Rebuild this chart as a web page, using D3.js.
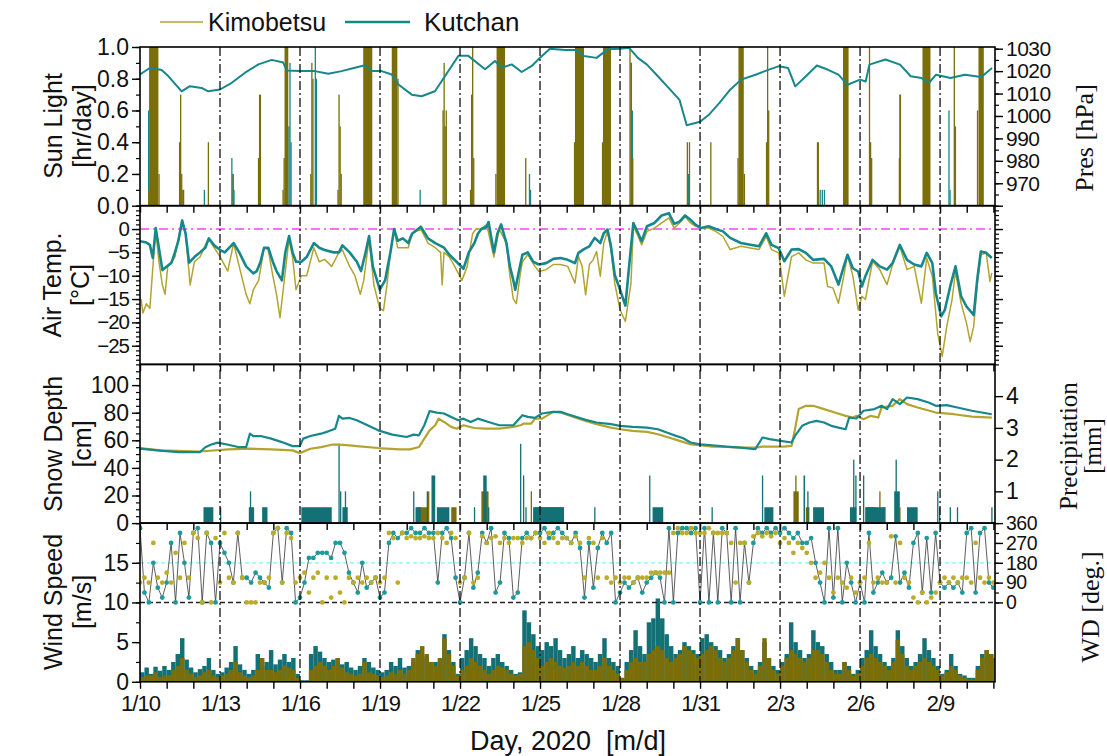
<!DOCTYPE html>
<html>
<head>
<meta charset="utf-8">
<title>Kimobetsu / Kutchan</title>
<script src="https://cdn.jsdelivr.net/npm/d3@7"></script>
<style>
  body { margin: 0; background: #fff; }
  text { fill: #111; }
</style>
</head>
<body>
<svg id="chart" width="1107" height="756"></svg>
<script>
// ---- data (t = days since 2020-01-10 00:00) ----
var xTickDays = [0, 3, 6, 9, 12, 15, 18, 21, 24, 27, 30];
var xTickLabels = ["1/10", "1/13", "1/16", "1/19", "1/22", "1/25", "1/28", "1/31", "2/3", "2/6", "2/9"];

// sunshine, runs of hourly bars: [t start, t end, hr]
var sunKimo = [[0.30,0.34,0.1],[0.34,0.69,1.0],[0.69,0.73,0.2],[1.46,1.5,0.4],[1.5,1.54,0.7],[1.54,1.58,0.2],[1.58,1.66,0.1],
  [2.54,2.58,0.4],[3.47,3.51,0.2],[4.42,4.46,0.3],[4.46,4.54,0.7],[5.34,5.38,0.1],[5.38,5.42,0.3],[5.42,5.56,1.0],
  [6.38,6.42,0.2],[6.42,6.46,0.9],[6.46,6.5,0.8],[7.40,7.44,0.1],[7.44,7.48,0.7],[7.48,7.52,0.5],[7.52,7.56,0.2],
  [8.37,8.71,1.0],[9.44,9.65,1.0],[9.65,9.69,0.8],[11.34,11.38,0.6],[11.38,11.42,0.9],[11.42,11.46,0.5],[11.46,11.5,0.6],
  [12.37,12.41,0.1],[12.41,12.45,0.7],[12.45,12.49,1.0],[12.49,12.53,0.3],[13.32,13.36,0.2],[13.37,13.69,1.0],
  [14.44,14.48,0.3],[16.27,16.31,0.4],[16.31,16.65,1.0],[17.32,17.36,0.4],[17.36,17.66,1.0],
  [18.35,18.39,1.0],[18.39,18.45,0.9],[18.45,18.5,0.3],[20.5,20.54,0.4],[20.58,20.62,0.4],[21.38,21.42,0.4],
  [22.4,22.44,0.3],[22.44,22.64,1.0],[22.64,22.68,0.2],[23.47,23.51,0.4],[23.51,23.55,1.0],[23.55,23.59,0.6],
  [25.38,25.46,0.4],[26.36,26.57,1.0],[27.33,27.37,1.0],[27.37,27.41,0.4],[27.41,27.45,0.3],
  [28.45,28.49,0.3],[28.49,28.53,0.7],[29.34,29.64,1.0],[30.51,30.55,1.0],[30.55,30.6,0.5],
  [31.38,31.42,0.6],[31.44,31.64,1.0]];
var sunKut = [[0.3,0.34,0.6],[2.39,2.43,0.1],[3.42,3.46,0.3],[3.46,3.5,0.2],[3.5,3.54,0.1],
  [5.56,5.6,0.5],[5.6,5.64,0.9],[5.64,5.68,0.4],[6.55,6.59,1.0],[6.59,6.63,0.8],[10.48,10.52,0.1],
  [13.58,13.62,0.9],[14.58,14.62,0.2],[14.62,14.66,0.1],[18.4,18.44,0.9],[18.44,18.48,0.6],[20.54,20.58,0.2],
  [25.48,25.52,0.1],[25.56,25.6,0.1],[25.64,25.68,0.1],[26.42,26.46,0.6],[28.47,28.51,0.7],[29.42,29.46,0.6],[29.46,29.5,0.5],
  [30.31,30.35,0.6],[30.35,30.39,0.1]];

// station pressure at Kutchan [t, hPa]
var presKut = [[0,1018.5],[0.38,1021.5],[0.81,1020.5],[1.06,1017.8],[1.56,1011],[1.87,1013.3],[2.31,1012.5],[2.56,1011],
  [3.0,1011.8],[3.44,1014.8],[3.94,1019.3],[4.44,1023],[4.94,1025],[5.37,1023.8],[5.5,1020.3],[6.0,1020],[6.56,1020],
  [7.06,1018.8],[7.56,1020],[8.06,1021.5],[8.44,1022.6],[8.69,1020],[9.06,1020],[9.44,1018.5],[9.69,1014],[10.19,1009.5],
  [10.56,1008.8],[11.06,1011],[11.44,1017.8],[11.94,1026.8],[12.31,1026.8],[12.94,1020.8],[13.31,1024.5],[13.56,1021.5],
  [13.94,1023],[14.31,1019.6],[14.69,1022.3],[15.0,1026],[15.37,1030],[15.94,1029.4],[16.37,1029.4],[16.64,1026.7],
  [17.12,1025.9],[17.53,1029.7],[18.0,1030],[18.34,1030.4],[18.67,1025.9],[19.01,1022.9],[19.42,1017.7],[19.83,1012.4],
  [20.23,1007.2],[20.5,995.9],[21.0,997.4],[21.32,1000.4],[21.72,1005.7],[22.13,1011.7],[22.54,1016.2],[23.08,1018.4],
  [23.48,1020.2],[23.96,1022.2],[24.3,1021.4],[24.57,1013.2],[24.97,1017.7],[25.38,1022.5],[25.78,1020.7],[26.19,1018.4],
  [26.53,1013.9],[27.0,1016.2],[27.21,1015.4],[27.35,1022.9],[27.95,1025.2],[28.5,1022.9],[28.9,1017.7],[29.31,1016.9],
  [29.58,1014.7],[29.85,1018.4],[30.39,1016.9],[30.93,1018.4],[31.54,1017.4],[31.95,1021.4]];

// air temperature [t, degC]
var tempKut = [[0,-2.6],[0.24,-2.9],[0.37,-3.4],[0.48,-6.2],[0.59,0.2],[0.84,-8.8],[1.18,-7.2],[1.31,-5],[1.44,-2.5],[1.58,1.8],
  [1.71,-1],[1.84,-7.2],[2.04,-6],[2.25,-5],[2.45,-4],[2.58,-2],[2.78,-3.5],[3.01,-4.5],[3.18,-5],[3.51,-3],[3.72,-5],[3.98,-8],
  [4.25,-9.5],[4.38,-9],[4.52,-7],[4.65,-4],[4.81,-4],[4.98,-7],[5.12,-9],[5.32,-11],[5.45,-5],[5.59,-1.5],[5.72,-5],[5.85,-7],
  [6.05,-7],[6.25,-6],[6.52,-3],[6.72,-4],[6.92,-4.5],[7.26,-5],[7.46,-5],[7.59,-3.5],[7.86,-5],[8.13,-7],[8.29,-9],[8.46,-5],
  [8.59,-1.5],[8.73,-8],[8.99,-13],[9.19,-11],[9.39,-5],[9.53,0],[9.66,-2.5],[9.86,-2],[10.06,-3],[10.2,-1],[10.53,0.5],
  [10.8,-2],[11.07,-3],[11.4,-4],[11.6,-5.5],[11.87,-7],[12.13,-8.5],[12.33,-5],[12.54,-3],[12.67,-1],[12.8,0],[13.0,0.5],
  [13.07,1.5],[13.27,-5],[13.4,-1],[13.54,1],[13.74,-3],[13.87,-8],[14.0,-11],[14.07,-13],[14.21,-9],[14.34,-5.5],[14.54,-5],
  [14.74,-7],[14.96,-7.6],[15.23,-7.3],[15.5,-6.4],[15.77,-6.2],[16.04,-6.6],[16.31,-7.3],[16.44,-5.1],[16.65,-4.3],
  [16.85,-3.7],[17.05,-1.9],[17.26,-3],[17.39,-0.9],[17.53,-0.1],[17.66,-3.7],[17.8,-9.8],[18.0,-13],[18.2,-16.4],[18.34,-8],
  [18.5,1.3],[18.68,-0.9],[18.81,-2.6],[19.01,0.6],[19.29,1.3],[19.56,2.9],[19.83,3.4],[20.03,1.1],[20.23,1.6],[20.44,2.9],
  [20.64,2],[20.84,0.9],[21.04,0.2],[21.32,0.6],[21.59,0],[21.86,-0.5],[22.13,-1.9],[22.53,-3],[22.94,-3.4],[23.21,-3.7],
  [23.48,-0.9],[23.68,-3.4],[23.95,-4.1],[24.16,-6.9],[24.43,-4.4],[24.7,-4.3],[24.97,-5.1],[25.24,-6.6],[25.65,-6.4],
  [25.92,-8],[26.19,-11.9],[26.39,-8],[26.53,-5.5],[26.73,-8.4],[26.93,-9.1],[27.07,-12.3],[27.2,-10.1],[27.47,-6.6],
  [27.74,-8],[28.01,-8.7],[28.22,-7.3],[28.49,-3.4],[28.76,-6.6],[29.03,-7.6],[29.3,-8],[29.5,-5.1],[29.71,-7.3],
  [29.84,-13.7],[30.04,-18.7],[30.18,-17.3],[30.38,-12.3],[30.58,-8],[30.79,-14.4],[30.99,-16.6],[31.26,-18.4],
  [31.4,-10.5],[31.53,-4.8],[31.73,-5.1],[31.94,-6.2]];
var tempKimo = [[0.04,-15],[0.11,-18],[0.24,-16],[0.37,-17],[0.51,-6],[0.59,0],[0.71,-7],[0.84,-12],[0.94,-14],[1.04,-8],
  [1.18,-7],[1.31,-6],[1.44,-2],[1.58,2],[1.71,-1],[1.88,-12],[2.04,-7],[2.25,-6],[2.45,-3.5],[2.58,-2],[2.78,-4],[3.01,-6],
  [3.29,-9],[3.51,-3],[3.72,-8],[3.98,-14],[4.12,-16],[4.25,-13],[4.45,-11],[4.65,-4],[4.81,-4.5],[4.98,-10],[5.12,-14],
  [5.25,-19],[5.43,-10],[5.59,-2],[5.72,-6],[5.85,-13],[6.05,-10],[6.25,-10],[6.52,-4],[6.72,-7],[6.92,-6.5],[7.19,-8],
  [7.46,-5],[7.59,-4.5],[7.86,-8],[8.06,-10],[8.26,-14],[8.39,-11],[8.59,-2],[8.77,-12],[8.99,-17],[9.13,-17.5],[9.26,-12],
  [9.39,-5],[9.53,0],[9.66,-4],[9.86,-4],[10.06,-4],[10.2,-1],[10.53,0],[10.8,-3],[11.07,-4],[11.27,-5],[11.33,-12],
  [11.4,-5],[11.6,-6],[11.8,-8],[12.07,-11],[12.27,-8],[12.47,-1],[12.6,0],[12.8,0],[13.0,1],[13.27,-6],[13.47,0],
  [13.74,-3],[13.87,-10],[14.0,-15],[14.11,-16],[14.25,-10],[14.34,-7],[14.54,-5.5],[14.81,-8],[14.96,-9.1],[15.23,-8.7],
  [15.5,-7.6],[15.77,-7.6],[16.04,-8],[16.31,-11.6],[16.44,-5.9],[16.58,-8],[16.71,-14.1],[16.85,-7.6],[16.99,-6.6],
  [17.12,-4.8],[17.26,-10.1],[17.39,-3],[17.53,-0.5],[17.66,-4.4],[17.8,-11.6],[18.0,-17.3],[18.2,-19.8],[18.41,-11.6],
  [18.5,0.6],[18.68,-1.6],[18.81,-3.4],[19.01,-0.5],[19.29,0.2],[19.56,1.3],[19.83,2.4],[20.03,0.2],[20.23,1.3],[20.44,2.7],
  [20.64,1.3],[20.84,0.6],[21.04,0.2],[21.32,0.2],[21.59,-0.5],[21.86,-1.6],[22.13,-4.4],[22.53,-3.7],[22.94,-4.1],
  [23.21,-4.4],[23.48,-1.6],[23.68,-4.4],[23.95,-5.1],[24.16,-14.4],[24.43,-5.9],[24.7,-5.1],[24.97,-6.6],[25.24,-7.3],
  [25.65,-7.3],[25.78,-12.3],[25.98,-12.6],[26.19,-15.9],[26.39,-10.1],[26.53,-5.5],[26.73,-10.1],[26.93,-17.3],
  [27.07,-14.4],[27.2,-15.1],[27.47,-6.9],[27.74,-8.7],[28.01,-11.9],[28.22,-7.6],[28.49,-3.7],[28.76,-8.7],[29.03,-8],
  [29.3,-15.9],[29.5,-6.2],[29.71,-10.1],[29.91,-22.3],[30.08,-27.3],[30.25,-20.9],[30.45,-15.1],[30.58,-9.1],
  [30.79,-15.9],[30.99,-20.1],[31.13,-24.1],[31.26,-20.9],[31.4,-11.6],[31.53,-5.5],[31.73,-5.1],[31.87,-11.2],[31.94,-9.4]];

// snow depth [t, cm]
var snowKut = [[0,53.9],[0.64,52.7],[1.44,51.5],[2.25,51.5],[2.45,55],[2.65,56.8],[2.91,58.3],[3.31,56.8],[3.72,55],[3.98,55],
  [4.12,64.8],[4.25,63],[4.52,63.1],[4.92,61.2],[5.32,58.7],[5.72,55.8],[5.99,55.8],[6.12,61.2],[6.39,63.1],[6.79,64.8],
  [7.06,66.5],[7.32,68.4],[7.46,77.7],[7.59,75.7],[7.86,76.2],[8.13,74.5],[8.53,70.9],[8.93,67.2],[9.46,64.1],[10.0,62.4],
  [10.26,64.1],[10.46,63.6],[10.66,70.9],[10.86,81.1],[11.13,80.1],[11.4,79.4],[11.67,76.9],[11.93,74.5],[12.13,75.7],
  [12.4,73.3],[12.67,75.7],[13.07,73.3],[13.47,70.9],[14.0,70.9],[14.34,78.2],[14.54,77],[14.81,76.2],[15.07,79.4],
  [15.5,80.6],[15.77,80.6],[16.04,78.9],[16.31,77.2],[16.71,74.8],[17.12,72.9],[17.66,71.7],[18.0,70.5],[18.47,69.7],
  [19.01,69.2],[19.42,68],[19.83,65.1],[20.1,63.2],[20.37,61.5],[20.64,58.4],[21.0,57.1],[21.45,56.4],[21.99,55.4],
  [22.53,54.7],[23.07,53.5],[23.34,62],[23.61,60.8],[24.02,59.6],[24.43,58.4],[24.56,63.2],[24.83,70.5],[25.1,72.9],
  [25.37,74.1],[25.65,72.9],[25.92,70.5],[26.19,69.2],[26.46,68],[26.59,76.5],[26.86,75.8],[27.13,81.4],[27.54,82.6],
  [27.81,85],[28.01,82.6],[28.22,89.8],[28.49,86.2],[28.76,91],[29.16,89.8],[29.57,87.4],[29.84,85],[30.25,85.5],
  [30.65,83.8],[31.19,81.4],[31.94,78.9]];
var snowKimo = [[0,54.4],[0.77,52.7],[2.25,51.9],[3.31,53.4],[4.12,53.9],[4.92,53.4],[5.72,52.7],[5.99,50.7],[6.39,53.9],
  [6.79,55.1],[7.19,56.8],[7.46,56.8],[7.86,56.3],[8.13,55.8],[8.93,54.4],[9.73,53.4],[10.13,53.4],[10.46,55.1],[10.66,61.2],
  [10.86,67.2],[11.07,70.9],[11.2,75.7],[11.4,73.3],[11.67,69.7],[11.87,68.4],[12.13,70.9],[12.53,68.9],[12.93,68.4],
  [13.47,68.4],[14.0,69.7],[14.27,70.9],[14.4,72.1],[14.67,72.1],[14.81,75.7],[15.07,75.7],[15.5,80.6],[15.77,80.1],
  [16.31,76.5],[16.71,74.1],[17.12,71.7],[17.66,69.2],[18.0,68],[18.47,66.8],[19.01,66.1],[19.42,64.4],[19.83,62],
  [20.23,59.6],[20.64,57.1],[21.0,56.4],[21.45,55.4],[21.99,55.2],[22.53,54.7],[23.07,54.7],[23.34,55.4],[23.75,55.4],
  [24.16,55.4],[24.43,55.9],[24.56,68],[24.7,82.6],[24.97,85],[25.24,85],[25.65,82.6],[26.05,80.1],[26.46,77.7],
  [26.73,76.5],[26.86,77.7],[27.13,75.3],[27.4,77.7],[27.68,76.5],[27.81,83.8],[28.22,85],[28.49,89.8],[28.76,86.2],
  [29.16,83.8],[29.84,80.1],[30.52,78.9],[31.19,77.2],[31.94,76.5]];

// precipitation, runs of hourly bars: [t start, t end, mm]
var precKut = [[2.38,2.75,0.5],[3.0,3.04,0.5],[4.08,4.28,0.5],[4.12,4.16,1.0],[4.58,4.78,0.5],[6.05,7.19,0.5],
  [7.44,7.48,2.5],[7.5,7.54,1.0],[7.59,7.79,0.5],[7.68,7.72,1.0],[10.24,10.28,1.0],[10.33,10.53,0.5],[10.75,10.79,1.0],
  [10.93,11.07,1.5],[11.13,11.6,0.5],[12.52,12.56,0.5],[12.87,13.0,1.5],[13.05,13.09,0.5],[14.25,14.29,2.5],
  [14.36,14.4,1.5],[14.45,14.49,0.5],[14.74,15.9,0.5],[17.03,17.07,0.5],[19.09,19.13,1.5],[19.22,19.62,0.5],
  [21.43,21.47,0.5],[23.32,23.36,1.5],[23.41,23.75,0.5],[24.88,24.94,1.5],[25.02,25.06,1.0],[25.24,25.65,0.5],
  [26.62,26.86,0.5],[26.74,26.78,2.0],[26.82,26.86,1.5],[27.11,27.15,1.5],[27.2,27.95,0.5],[28.28,28.49,1.0],
  [28.33,28.37,2.0],[28.76,29.16,0.5],[29.89,29.93,1.0],[29.96,30.0,0.5],[30.36,30.4,0.5],[30.63,30.67,0.5],
  [31.92,31.96,0.5]];
var precKimo = [[10.4,10.8,0.5],[10.8,10.84,1.0],[11.67,11.87,0.5],[12.8,13.07,1.0],[14.65,14.69,1.0],[14.81,15.9,0.5],
  [24.5,24.7,1.0],[24.57,24.61,1.5],[24.97,25.1,0.5],[27.2,27.61,0.5],[27.72,27.76,1.0],[27.88,27.95,0.5],[28.47,28.51,0.5]];

// wind speed, every 4 h from t = 0 [m/s]
var windKut = [1.2,1.8,1.0,1.9,1.4,2.0, 1.5,2.5,3.5,5.5,2.8,1.8, 1.2,1.6,2.0,3.0,1.5,1.0, 1.2,1.8,2.5,4.5,2.2,1.5,
  1.0,1.5,3.5,2.0,2.5,4.0, 2.2,2.8,3.5,2.5,3.0,1.0, 0.2,0.2,3.5,4.5,3.8,3.0, 2.5,2.8,3.0,2.2,2.5,1.8,
  1.5,2.0,3.0,2.5,1.8,1.5, 1.2,1.5,2.5,2.0,3.0,1.8, 2.0,2.5,4.0,3.0,3.2,2.5, 2.5,3.0,6.0,4.0,2.5,1.0,
  3.0,4.0,5.5,4.5,3.5,3.0, 2.0,3.0,3.5,2.5,2.0,1.5, 1.0,1.2,9.0,7.5,6.0,4.5, 4.0,5.0,4.5,5.5,4.0,3.0,
  3.5,4.5,3.0,4.0,3.5,3.0, 2.5,3.5,5.5,3.0,2.5,2.0, 0.5,2.5,4.0,6.5,4.5,3.5, 7.5,8.0,10.5,8.0,6.0,4.5,
  3.5,4.0,5.0,4.5,4.0,3.5, 5.5,6.0,5.0,4.5,4.0,3.0, 3.5,4.5,5.5,4.0,3.0,2.0, 1.5,2.5,5.0,3.0,2.0,1.5,
  2.5,3.5,7.5,5.0,4.0,3.0, 3.5,6.5,5.0,4.5,3.5,2.5, 1.5,1.5,2.5,2.0,1.0,1.5, 3.0,4.0,6.5,4.5,3.5,2.5,
  2.0,3.0,6.5,4.5,3.0,2.0, 2.5,3.5,5.5,4.0,3.0,2.0, 1.0,1.5,3.5,2.0,1.0,0.8, 0.5,0.5,2.0,3.5,4.0,3.5, 3.0];
var windKimo = [0.6,0.8,0.8,1.2,0.6,0.8, 0.8,1.5,2.0,3.0,1.5,1.0, 0.6,0.8,1.2,1.5,0.8,0.6, 0.8,1.0,1.5,2.5,1.2,0.8,
  0.6,0.8,1.5,3.0,1.5,1.5, 1.2,1.5,2.0,1.8,1.5,0.5, 0.1,0.1,1.5,2.0,2.5,2.0, 1.5,2.0,3.0,1.8,1.2,1.0,
  0.8,1.0,2.5,1.2,1.0,0.8, 0.6,0.8,1.2,1.0,1.5,1.0, 1.5,3.0,3.5,4.5,3.5,2.5, 2.0,3.0,5.5,3.5,2.0,0.8,
  1.5,2.0,3.0,2.5,2.0,1.5, 1.0,1.5,2.0,1.8,1.5,1.0, 0.8,1.0,4.5,5.0,4.0,3.0, 2.0,2.5,3.0,2.5,2.0,1.8,
  2.0,2.5,2.0,2.5,2.0,1.5, 1.5,2.0,3.0,2.0,1.5,1.0, 0.5,1.5,2.5,3.0,2.5,2.5, 3.5,4.0,4.5,4.0,3.0,2.5,
  3.0,3.5,4.5,4.0,3.5,3.0, 3.5,4.0,4.5,4.0,3.0,2.5, 3.0,4.0,5.5,4.0,2.5,1.5, 1.0,2.0,5.5,3.0,1.5,1.0,
  2.0,3.0,4.0,3.5,3.0,2.5, 3.0,4.0,4.0,3.5,2.5,1.5, 1.0,1.0,2.5,1.5,0.8,1.0, 2.0,3.0,3.5,3.0,2.5,2.0,
  1.5,2.5,5.3,3.5,2.0,1.5, 2.0,2.5,3.0,2.5,2.0,1.5, 0.8,1.2,2.0,1.5,0.8,0.5, 0.3,0.3,1.5,3.0,4.0,3.5, 3.0];

// wind direction, every 4 h from t = 0 [deg]
var wdKut = [337,45,0,180,67,22, 90,270,0,315,180,22, 315,337,0,315,270,0, 270,225,180,90,315,112,
  112,90,135,112,90,67, 315,337,90,337,315,0, 22,90,202,202,225,225, 225,202,270,270,225,135,
  90,45,180,67,90,112, 22,45,270,315,292,315, 315,337,315,315,337,315, 315,90,315,337,292,112,
  0,112,315,67,135,315, 270,337,45,90,315,292, 22,45,292,315,292,315, 315,337,292,315,337,315,
  292,270,315,247,22,270, 67,247,315,270,315,0, 45,90,67,90,112,45, 90,112,135,112,0,337,
  0,315,337,337,315,337, 0,337,0,315,0,337, 315,0,337,0,270,90, 270,337,315,337,315,337,
  315,337,315,292,315,270, 270,292,180,90,0,337, 22,337,0,180,90,0, 90,0,315,45,90,135,
  90,112,300,90,135,67, 270,315,45,292,45,315, 90,67,90,67,90,45, 315,337,45,315,337,90, 67];
var wdKimo = [90,112,90,270,112,90, 135,90,225,112,270,112, 315,292,0,315,0,292, 90,315,112,90,315,112,
  0,0,0,90,90,112, 315,337,90,315,292,90, 112,135,45,112,135,0, 112,22,112,45,0,112,
  90,112,90,112,90,112, 90,112,315,292,90,315, 292,300,292,292,300,292, 292,315,292,270,315,292,
  90,112,315,90,112,300, 270,292,300,270,292,270, 292,292,270,292,292,315, 292,270,315,292,270,292,
  292,270,300,270,112,292, 270,112,292,112,90,112, 90,112,112,90,112,112, 112,135,135,135,135,135,
  315,337,315,315,337,315, 315,315,337,315,315,315, 315,270,90,270,270,90, 300,315,300,315,300,315,
  270,292,270,225,270,247, 225,180,112,135,180,112, 45,112,90,67,112,45, 90,112,270,90,112,90,
  90,300,90,270,112,90, 22,0,45,0,22,45, 90,112,90,112,90,112, 112,90,270,112,90,112, 90];

var sunTicks = [0, 0.2, 0.4, 0.6, 0.8, 1.0];
var presTicks = [970, 980, 990, 1000, 1010, 1020, 1030];
var tempTicks = [0, -5, -10, -15, -20, -25];
var snowTicks = [0, 20, 40, 60, 80, 100];
var precTicks = [1, 2, 3, 4];
var wsTicks = [0, 5, 10, 15];
var wdTicks = [0, 90, 180, 270, 360];

// ---- layout ----
var left = 140, right = 995, top0 = 47, ph = 158.7;
var pTop = function (i) { return top0 + i * ph; };
var kimoLine = "#b3a430", kimoBar = "#7a6e0a", kutLine = "#16878b", kutBar = "#137075";
var sans = "'Liberation Sans', Arial, sans-serif";
var serif = "'Liberation Serif', 'Times New Roman', serif";

var svg = d3.select("#chart");
var x = d3.scaleLinear().domain([0, 32.06]).range([left, right]);

var ySun = d3.scaleLinear().domain([0, 1]).range([pTop(1), pTop(0)]);
var yPres = d3.scaleLinear().domain([960, 1030.75]).range([pTop(1), pTop(0)]);
var yTemp = d3.scaleLinear().domain([-29, 5]).range([pTop(2), pTop(1)]);
var ySnow = d3.scaleLinear().domain([0, 115]).range([pTop(3), pTop(2)]);
var yPrec = d3.scaleLinear().domain([0, 5]).range([pTop(3), pTop(2)]);
var yWs = d3.scaleLinear().domain([0, 20]).range([pTop(4), pTop(3)]);
var yWd = d3.scaleLinear().domain([0, 360]).range([yWs(10), pTop(3)]);

var defs = svg.append("defs");
for (var i = 0; i < 4; i++) {
  defs.append("clipPath").attr("id", "clip" + i)
    .append("rect").attr("x", left).attr("y", pTop(i)).attr("width", right - left).attr("height", ph);
}

function runBars(g, data, y, color) {
  g.selectAll(null).data(data).join("rect")
    .attr("x", function (d) { return x(d[0]); })
    .attr("width", function (d) { return Math.max(x(d[1]) - x(d[0]), 1.3); })
    .attr("y", function (d) { return y(d[2]); })
    .attr("height", function (d) { return y(0) - y(d[2]); })
    .attr("fill", color);
}
function drawLine(g, data, y, color, w) {
  g.append("path").datum(data)
    .attr("fill", "none").attr("stroke", color).attr("stroke-width", w).attr("stroke-linejoin", "round")
    .attr("d", d3.line().x(function (d) { return x(d[0]); }).y(function (d) { return y(d[1]); }));
}

// panel 1: sunshine + pressure
var g1 = svg.append("g").attr("clip-path", "url(#clip0)");
runBars(g1, sunKut, ySun, kutLine);
runBars(g1, sunKimo, ySun, kimoBar);
drawLine(g1, presKut, yPres, kutLine, 2);

// panel 2: air temperature
var g2 = svg.append("g").attr("clip-path", "url(#clip1)");
g2.append("line").attr("x1", left).attr("x2", right).attr("y1", yTemp(0)).attr("y2", yTemp(0))
  .attr("stroke", "#ff40ff").attr("stroke-width", 1.6).attr("stroke-dasharray", "9,4,2,4");
drawLine(g2, tempKimo, yTemp, kimoLine, 1.5);
drawLine(g2, tempKut, yTemp, kutLine, 2.6);

// panel 3: snow depth + precipitation
var g3 = svg.append("g").attr("clip-path", "url(#clip2)");
runBars(g3, precKimo, yPrec, kimoBar);
runBars(g3, precKut, yPrec, kutBar);
drawLine(g3, snowKimo, ySnow, kimoLine, 2.2);
drawLine(g3, snowKut, ySnow, kutLine, 2.2);

// panel 4: wind speed + direction
var g4 = svg.append("g").attr("clip-path", "url(#clip3)");
var step = 1 / 6;
g4.selectAll(null).data(windKut).join("rect")
  .attr("x", function (d, i) { return x(i * step); })
  .attr("width", x(step) - x(0))
  .attr("y", function (d) { return yWs(d); })
  .attr("height", function (d) { return yWs(0) - yWs(d); })
  .attr("fill", kutBar);
g4.selectAll(null).data(windKimo).join("rect")
  .attr("x", function (d, i) { return x(i * step); })
  .attr("width", x(step) - x(0))
  .attr("y", function (d) { return yWs(d); })
  .attr("height", function (d) { return yWs(0) - yWs(d); })
  .attr("fill", kimoBar);
g4.append("line").attr("x1", left).attr("x2", right).attr("y1", yWd(180)).attr("y2", yWd(180))
  .attr("stroke", "#7ff5f5").attr("stroke-width", 1.2).attr("stroke-dasharray", "4,3");
g4.append("line").attr("x1", left).attr("x2", right).attr("y1", yWd(0)).attr("y2", yWd(0))
  .attr("stroke", "#222").attr("stroke-width", 1.6).attr("stroke-dasharray", "5,3");
g4.append("path").datum(wdKut)
  .attr("fill", "none").attr("stroke", "#333").attr("stroke-width", 0.8)
  .attr("d", d3.line().x(function (d, i) { return x(i * step); }).y(function (d) { return yWd(d); }));
g4.selectAll(null).data(wdKut).join("circle")
  .attr("cx", function (d, i) { return x(i * step); }).attr("cy", function (d) { return yWd(d); })
  .attr("r", 2.4).attr("fill", "#1f9a9c");
g4.selectAll(null).data(wdKimo).join("circle")
  .attr("cx", function (d, i) { return x(i * step); }).attr("cy", function (d) { return yWd(d); })
  .attr("r", 2.4).attr("fill", "#bcac2c");

// vertical dash-dot day markers
svg.append("g").selectAll("line").data(xTickDays.slice(1)).join("line")
  .attr("x1", function (d) { return x(d); }).attr("x2", function (d) { return x(d); })
  .attr("y1", pTop(0)).attr("y2", pTop(4))
  .attr("stroke", "#111").attr("stroke-width", 1.3).attr("stroke-dasharray", "9,3,2,3");

// panel frames and x ticks (outward, every day)
var days = d3.range(0, 33);
for (var p = 0; p < 4; p++) {
  svg.append("rect").attr("x", left).attr("y", pTop(p)).attr("width", right - left).attr("height", ph)
    .attr("fill", "none").attr("stroke", "#000").attr("stroke-width", 1.6);
  var xa = svg.append("g").attr("transform", "translate(0," + pTop(p + 1) + ")")
    .call(d3.axisBottom(x).tickValues(days).tickSize(7).tickFormat(""));
  xa.select(".domain").remove();
  xa.selectAll("line").attr("stroke", "#000").attr("stroke-width", 1.4);
}
var xl = svg.append("g").attr("transform", "translate(0," + pTop(4) + ")")
  .call(d3.axisBottom(x).tickValues(xTickDays).tickSize(0).tickPadding(14)
    .tickFormat(function (d, i) { return xTickLabels[i]; }));
xl.select(".domain").remove();
xl.selectAll("text").style("font-size", "22px").style("font-family", sans).style("letter-spacing", "-1px");

function yAxis(scale, side, majors, minorVals, fmt, fs, ls) {
  var mk = side === "left" ? d3.axisLeft : d3.axisRight;
  var xp = side === "left" ? left : right;
  var gm = svg.append("g").attr("transform", "translate(" + xp + ",0)")
    .call(mk(scale).tickValues(minorVals).tickSize(4).tickFormat(""));
  gm.select(".domain").remove();
  gm.selectAll("line").attr("stroke", "#000").attr("stroke-width", 1.2);
  var g = svg.append("g").attr("transform", "translate(" + xp + ",0)")
    .call(mk(scale).tickValues(majors).tickSize(8).tickPadding(3).tickFormat(fmt));
  g.select(".domain").remove();
  g.selectAll("line").attr("stroke", "#000").attr("stroke-width", 1.4);
  g.selectAll("text").style("font-size", (fs || 23) + "px").style("font-family", sans)
    .style("letter-spacing", (ls || 0) + "px");
  return g;
}
yAxis(ySun, "left", sunTicks, d3.range(0, 1.001, 0.1), d3.format(".1f"));
yAxis(yPres, "right", presTicks, d3.range(965, 1031, 5), d3.format("d"), 21, -0.5);
yAxis(yTemp, "left", tempTicks, d3.range(-29, 5.01, 1), d3.format("d"), 20.5, -1);
yAxis(yTemp, "right", [5, 0, -5, -10, -15, -20, -25], d3.range(-29, 5.01, 1), function () { return ""; });
yAxis(ySnow, "left", snowTicks, d3.range(0, 115, 5), d3.format("d"));
yAxis(yPrec, "right", precTicks, [], d3.format("d"));
yAxis(yWs, "left", wsTicks, d3.range(0, 20.01, 2.5), d3.format("d"));
yAxis(yWd, "right", wdTicks, d3.range(0, 361, 45), d3.format("d"), 19.5, -0.5);

// axis titles
function vTitle(cx, cy, lines, fs, fam, gap) {
  var t = svg.append("text").attr("transform", "translate(" + cx + "," + cy + ") rotate(-90)")
    .attr("text-anchor", "middle").style("font-size", fs + "px").style("font-family", fam);
  lines.forEach(function (s, k) {
    t.append("tspan").attr("x", 0).attr("dy", k === 0 ? 0 : gap).text(s);
  });
}
vTitle(62, 126, ["Sun Light", "[hr/day]"], 25, sans, 29);
vTitle(61, 285, ["Air Temp.", "[\u00B0C]"], 25, sans, 28);
vTitle(62, 444, ["Snow Depth", "[cm]"], 25, sans, 29);
vTitle(62, 602, ["Wind Speed", "[m/s]"], 25, sans, 29);
vTitle(1093, 138, ["Pres [hPa]"], 26, serif, 0);
vTitle(1077, 446, ["Precipitation", "[mm]"], 25, serif, 24);
vTitle(1099, 607, ["WD [deg.]"], 26, serif, 0);

svg.append("text").attr("x", 568).attr("y", 750).attr("text-anchor", "middle")
  .attr("xml:space", "preserve")
  .style("font-size", "27px").style("font-family", sans).style("white-space", "pre")
  .text("Day, 2020  [m/d]");

// legend
var leg = svg.append("g");
leg.append("line").attr("x1", 160).attr("x2", 203).attr("y1", 22).attr("y2", 22)
  .attr("stroke", kimoLine).attr("stroke-width", 1.6);
leg.append("text").attr("x", 208).attr("y", 31).style("font-size", "25px").style("font-family", sans).text("Kimobetsu");
leg.append("line").attr("x1", 345).attr("x2", 410).attr("y1", 22).attr("y2", 22)
  .attr("stroke", kutLine).attr("stroke-width", 2.6);
leg.append("text").attr("x", 424).attr("y", 31).style("font-size", "26px").style("font-family", sans).text("Kutchan");
</script>
</body>
</html>
